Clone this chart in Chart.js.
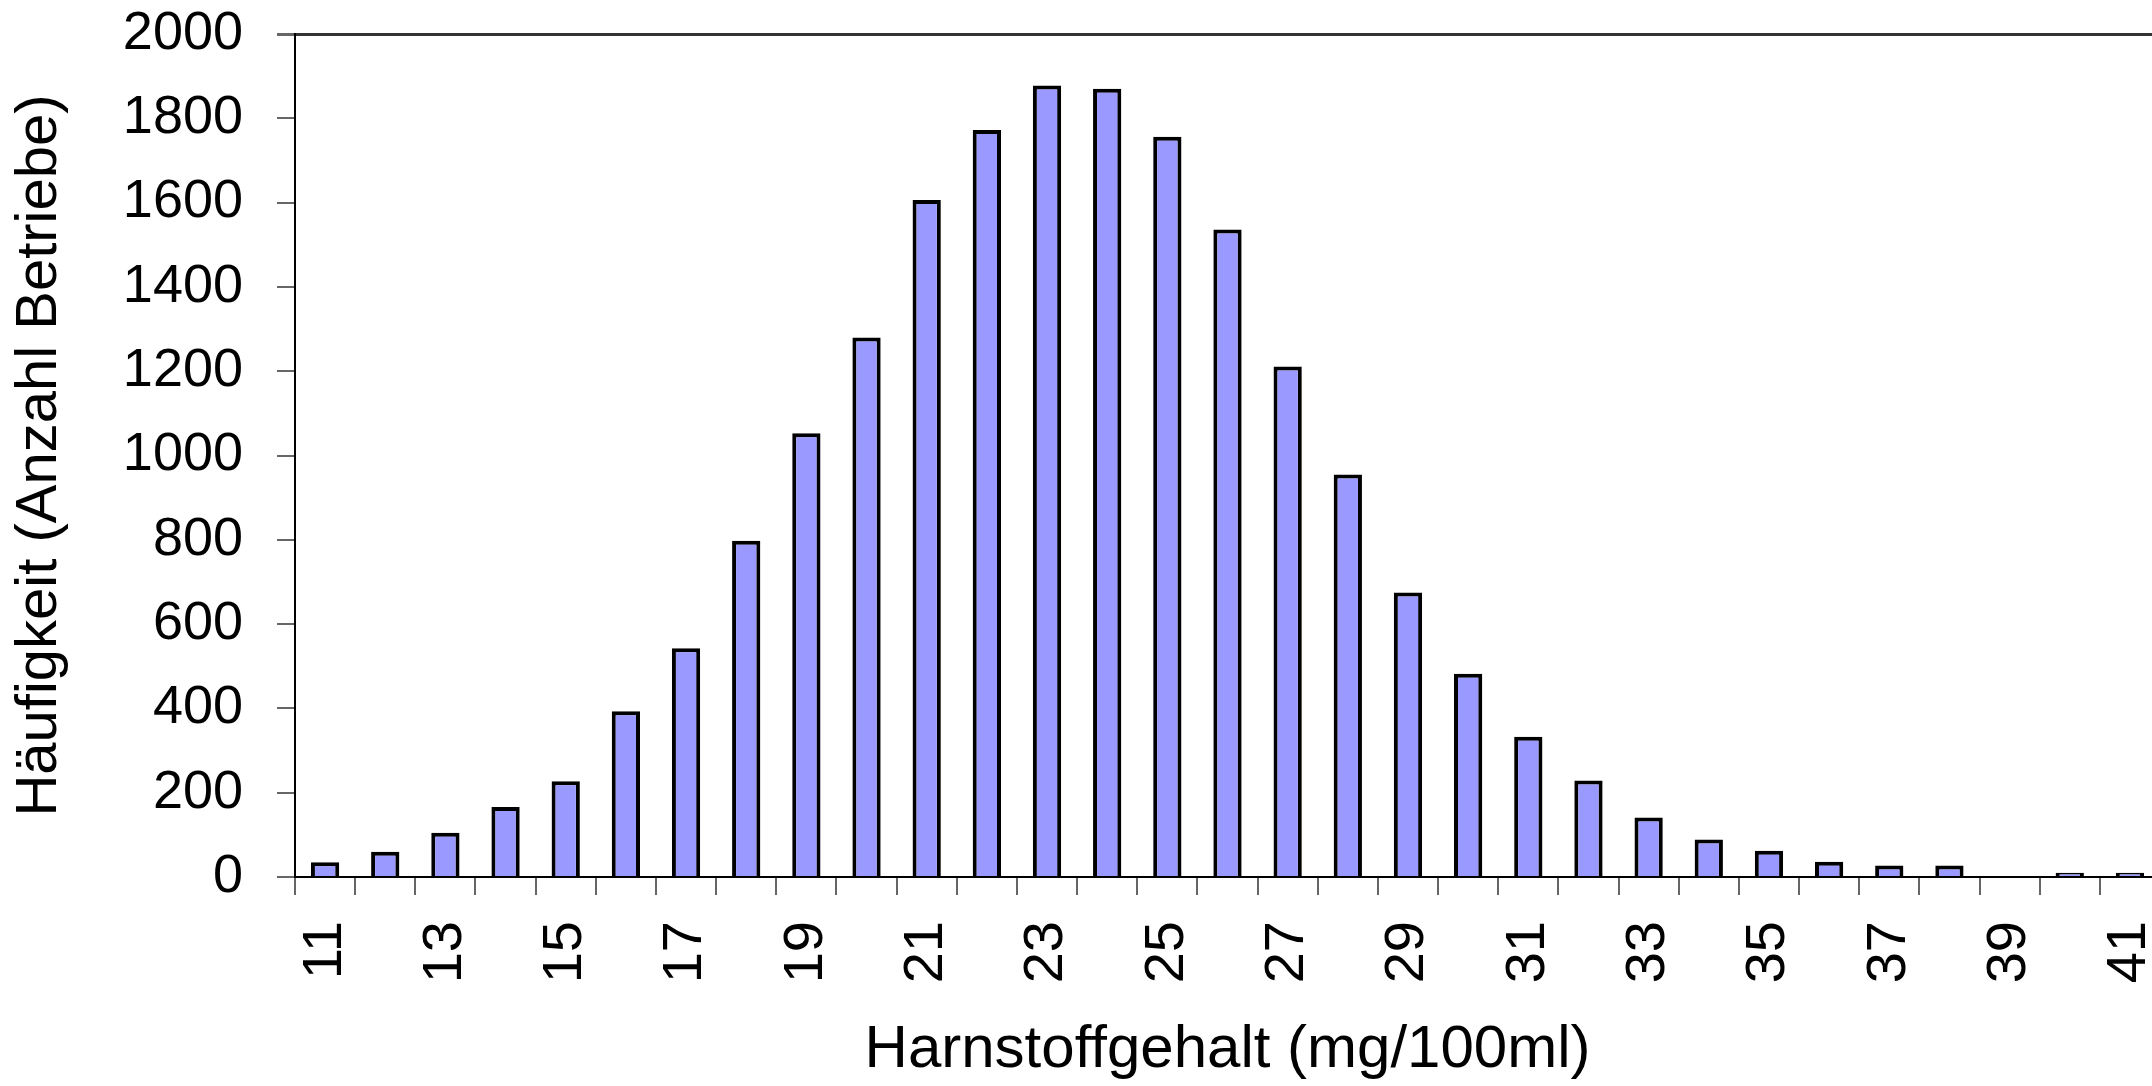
<!DOCTYPE html>
<html>
<head>
<meta charset="utf-8">
<script src="https://cdn.jsdelivr.net/npm/chart.js@4/dist/chart.umd.min.js"></script>
<style>
	html, body { margin: 0; padding: 0; background: #fff; overflow: hidden; }
	.chartBox { position: relative; width: 2160px; height: 1086px; }
</style>
</head>
<body>
<div class="chartBox"><canvas id="harnChart"></canvas></div>
<script>
// 데이터
var categories = ["11", "12", "13", "14", "15", "16", "17", "18", "19", "20",
	"21", "22", "23", "24", "25", "26", "27", "28", "29", "30",
	"31", "32", "33", "34", "35", "36", "37", "38", "39", "40", "41"];
var counts = [35, 60, 105, 166, 227, 393, 543, 798, 1053, 1280,
	1606, 1772, 1878, 1870, 1756, 1536, 1211, 955, 675, 482,
	333, 229, 141, 89, 62, 36, 27, 27, 0, 10, 10];
var yTicks = { min: 0, max: 2000, step: 200 };
var xTitle = "Harnstoffgehalt (mg/100ml)";
var yTitle = "Häufigkeit (Anzahl Betriebe)";

var fontName = "'Liberation Sans', Arial, sans-serif";

window.onload = function () {
	var ctx = document.getElementById('harnChart').getContext('2d');
	var myChart = new Chart(ctx, {
		type: 'bar',
		data: {
			labels: categories,
			datasets: [{
				data: counts,
				backgroundColor: '#9999ff',
				borderColor: '#000000',
				borderWidth: 4,
				borderSkipped: 'bottom',
				categoryPercentage: 1,
				barPercentage: 0.47
			}]
		},
		options: {
			responsive: true,
			maintainAspectRatio: false,
			animation: false,
			events: [],
			layout: {
				padding: { top: 34, left: 0, right: 0, bottom: 0 }
			},
			plugins: {
				legend: { display: false },
				tooltip: { enabled: false }
			},
			scales: {
				x: {
					offset: true,
					grid: {
						offset: true,
						drawOnChartArea: false,
						drawTicks: true,
						tickLength: 18,
						color: '#666666',
						lineWidth: 2
					},
					border: { display: true, color: '#000000', width: 2 },
					ticks: {
						autoSkip: false,
						minRotation: 90,
						maxRotation: 90,
						padding: 26,
						color: '#000000',
						font: { family: fontName, size: 56 },
						callback: function (value, index) {
							return index % 2 === 0 ? categories[index] : '';
						}
					},
					title: {
						display: true,
						text: xTitle,
						color: '#000000',
						font: { family: fontName, size: 60 },
						padding: { top: 0, bottom: 0 }
					},
					afterFit: function (scale) {
						scale.height = 209;
						scale.paddingLeft = 0;
						scale.paddingRight = 0;
					}
				},
				y: {
					min: yTicks.min,
					max: yTicks.max,
					grid: {
						drawOnChartArea: true,
						drawTicks: true,
						tickLength: 18,
						lineWidth: function (c) {
							return c.tick && c.tick.value === yTicks.max ? 3 : 2;
						},
						color: function (c) {
							return c.tick && c.tick.value === yTicks.max ? '#333333' : 'rgba(0,0,0,0)';
						},
						tickColor: '#666666'
					},
					border: { display: true, color: '#000000', width: 2 },
					ticks: {
						stepSize: yTicks.step,
						padding: 34,
						color: '#000000',
						font: { family: fontName, size: 54 },
						callback: function (value) {
							return String(value);
						}
					},
					title: {
						display: true,
						text: yTitle,
						color: '#000000',
						font: { family: fontName, size: 58 },
						padding: { top: 5, bottom: 0 }
					},
					afterFit: function (scale) {
						scale.width = 295;
						scale.paddingTop = 0;
						scale.paddingBottom = 0;
					}
				}
			}
		}
	});
};
</script>
</body>
</html>
